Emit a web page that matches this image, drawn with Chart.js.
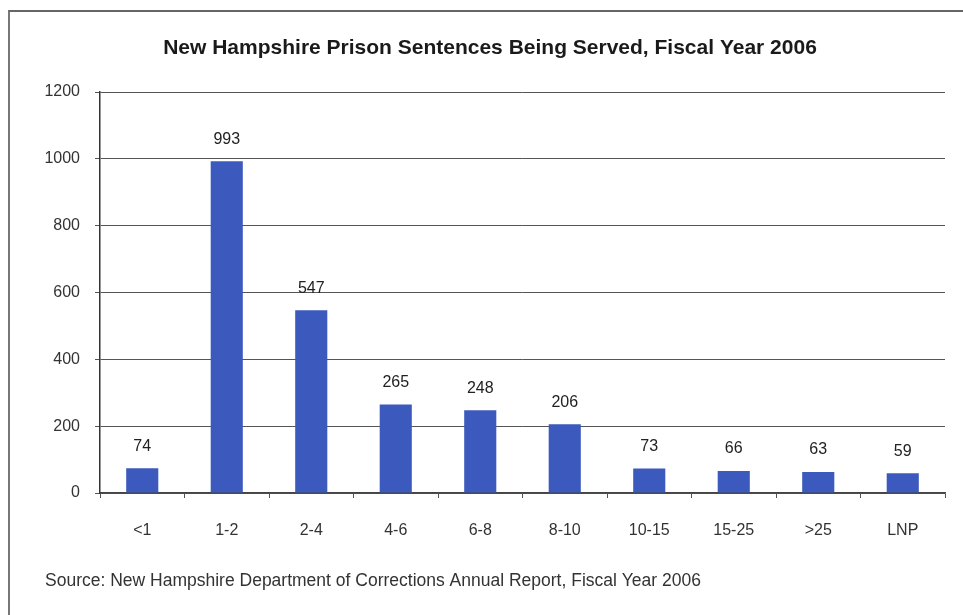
<!DOCTYPE html>
<html>
<head>
<meta charset="utf-8">
<script src="https://cdn.jsdelivr.net/npm/chart.js@4.4.1/dist/chart.umd.min.js"></script>
<style>
  html, body { margin: 0; padding: 0; background: #fff; }
  #wrap { position: relative; width: 963px; height: 615px; }
  #frame { position: absolute; left: 8px; top: 10px; right: 0; bottom: 0;
           border-left: 2px solid #777; border-top: 2px solid #666; }
  canvas { position: absolute; left: 0; top: 0; }
</style>
</head>
<body>
<div id="wrap">
  <div id="frame"></div>
  <canvas id="myChart" width="963" height="615"></canvas>
</div>
<script>
// Sentence lengths (years) and counts
const categories = ['<1', '1-2', '2-4', '4-6', '6-8', '8-10', '10-15', '15-25', '>25', 'LNP'];
const inmates = [74, 993, 547, 265, 248, 206, 73, 66, 63, 59];
const yTicks = [0, 200, 400, 600, 800, 1000, 1200];

const chartTitle = 'New Hampshire Prison Sentences Being Served, Fiscal Year 2006';
const sourceNote = 'Source: New Hampshire Department of Corrections Annual Report, Fiscal Year 2006';

const FONT = '"Liberation Sans", Arial, sans-serif';

const textBits = {
  id: 'textBits',
  afterDatasetsDraw(chart) {
    const c = chart.ctx;
    c.save();
    c.fillStyle = '#222';
    c.font = '16px ' + FONT;
    c.textAlign = 'center';
    c.textBaseline = 'bottom';
    chart.getDatasetMeta(0).data.forEach((bar, i) => {
      c.fillText(inmates[i], bar.x, bar.y - 14);
    });
    c.restore();
  },
  afterDraw(chart) {
    const c = chart.ctx;
    c.save();
    c.fillStyle = '#1a1a1a';
    c.textBaseline = 'middle';
    c.font = 'bold 21px ' + FONT;
    c.textAlign = 'center';
    c.fillText(chartTitle, 490, 48);
    c.font = '17.5px ' + FONT;
    c.fillStyle = '#333';
    c.textAlign = 'left';
    c.fillText(sourceNote, 45, 581);
    c.restore();
  }
};

const ctx = document.getElementById('myChart').getContext('2d');
const myChart = new Chart(ctx, {
  type: 'bar',
  data: {
    labels: categories,
    datasets: [{
      data: inmates,
      backgroundColor: '#3c5abd',
      borderWidth: 0,
      barPercentage: 0.76,
      categoryPercentage: 0.5
    }]
  },
  options: {
    responsive: false,
    animation: false,
    layout: { padding: { left: 20, right: 18, top: 92, bottom: 72 } },
    plugins: {
      legend: { display: false },
      tooltip: { enabled: false }
    },
    scales: {
      x: {
        afterFit: (s) => { s.height = 50; },
        grid: {
          offset: true,
          drawOnChartArea: false,
          drawTicks: true,
          tickLength: 5,
          color: '#555'
        },
        border: { color: '#444', width: 1.5 },
        ticks: {
          color: '#333',
          padding: 23,
          font: { family: FONT, size: 16 }
        }
      },
      y: {
        min: 0,
        max: 1200,
        afterFit: (s) => { s.width = 80; },
        afterBuildTicks: (s) => { s.ticks = yTicks.map(v => ({ value: v })); },
        grid: { color: '#555', lineWidth: 1, tickLength: 5 },
        border: { color: '#333', width: 1.5 },
        ticks: {
          color: '#333',
          padding: 15,
          callback: (v) => String(v),
          font: { family: FONT, size: 16 }
        }
      }
    }
  },
  plugins: [textBits]
});
</script>
</body>
</html>
